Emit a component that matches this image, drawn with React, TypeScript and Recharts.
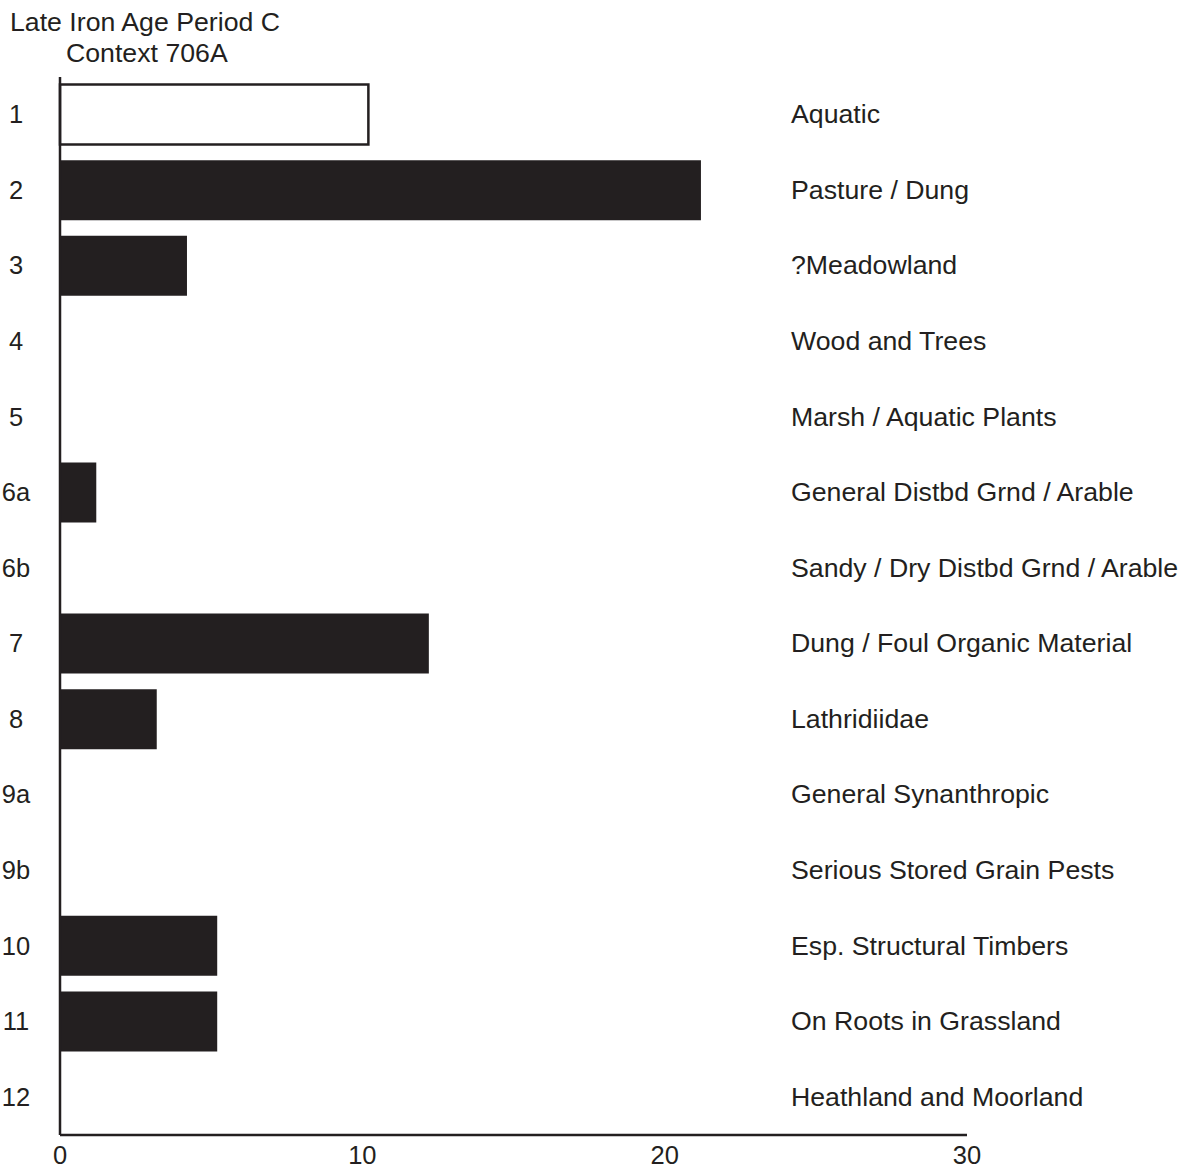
import React from "react";
import { BarChart, Bar, XAxis, YAxis, Cell } from "recharts";

const codes = ["1", "2", "3", "4", "5", "6a", "6b", "7", "8", "9a", "9b", "10", "11", "12"];
const groups = [
  "Aquatic",
  "Pasture / Dung",
  "?Meadowland",
  "Wood and Trees",
  "Marsh / Aquatic Plants",
  "General Distbd Grnd / Arable",
  "Sandy / Dry Distbd Grnd / Arable",
  "Dung / Foul Organic Material",
  "Lathridiidae",
  "General Synanthropic",
  "Serious Stored Grain Pests",
  "Esp. Structural Timbers",
  "On Roots in Grassland",
  "Heathland and Moorland",
];
const values = [10.2, 21.2, 4.2, 0, 0, 1.2, 0, 12.2, 3.2, 0, 0, 5.2, 5.2, 0];
const xTicks = [0, 10, 20, 30];

const data = codes.map((code, i) => ({ code, group: groups[i], value: values[i] }));

const ink = "#231f20";
const font = "'Liberation Sans', Arial, Helvetica, sans-serif";

function LeftTick(props: any) {
  const { y, payload } = props;
  return (
    <text x={16} y={y} dy={8.5} textAnchor="middle" fontSize={25.5} fill={ink} fontFamily={font}>
      {payload.value}
    </text>
  );
}

function RightTick(props: any) {
  const { y, payload } = props;
  return (
    <text x={791} y={y} dy={8.5} textAnchor="start" fontSize={26.7} fill={ink} fontFamily={font}>
      {payload.value}
    </text>
  );
}

function BottomTick(props: any) {
  const { x, payload } = props;
  return (
    <text x={x} y={1164} textAnchor="middle" fontSize={25.5} fill={ink} fontFamily={font}>
      {payload.value}
    </text>
  );
}

export default function App() {
  return (
    <div style={{ position: "absolute", left: 0, top: 0, width: 1192, height: 1169, background: "#fff", fontFamily: font }}>
      <div style={{ position: "absolute", left: 10, top: 7, fontSize: 26.7, color: ink, lineHeight: "30px", whiteSpace: "nowrap" }}>
        Late Iron Age Period C
      </div>
      <div style={{ position: "absolute", left: 66, top: 38, fontSize: 26.7, color: ink, lineHeight: "30px", whiteSpace: "nowrap" }}>
        Context 706A
      </div>
      <BarChart
        width={1192}
        height={1169}
        data={data}
        layout="vertical"
        margin={{ top: 77, right: 0, bottom: 0, left: 0 }}
        barCategoryGap="10%"
      >
        <XAxis
          type="number"
          domain={[0, 30]}
          ticks={xTicks}
          height={34}
          axisLine={{ stroke: ink, strokeWidth: 2.5 }}
          tickLine={false}
          tick={<BottomTick />}
          interval={0}
        />
        <YAxis
          yAxisId="left"
          type="category"
          dataKey="code"
          width={60}
          axisLine={{ stroke: ink, strokeWidth: 2.5 }}
          tickLine={false}
          tick={<LeftTick />}
          interval={0}
        />
        <YAxis
          yAxisId="right"
          orientation="right"
          type="category"
          dataKey="group"
          width={225}
          axisLine={false}
          tickLine={false}
          tick={<RightTick />}
          interval={0}
        />
        <Bar dataKey="value" yAxisId="left" isAnimationActive={false}>
          {data.map((d, i) => (
            <Cell
              key={d.code}
              fill={i === 0 ? "#ffffff" : ink}
              stroke={i === 0 ? ink : "none"}
              strokeWidth={i === 0 ? 2.5 : 0}
            />
          ))}
        </Bar>
      </BarChart>
    </div>
  );
}
